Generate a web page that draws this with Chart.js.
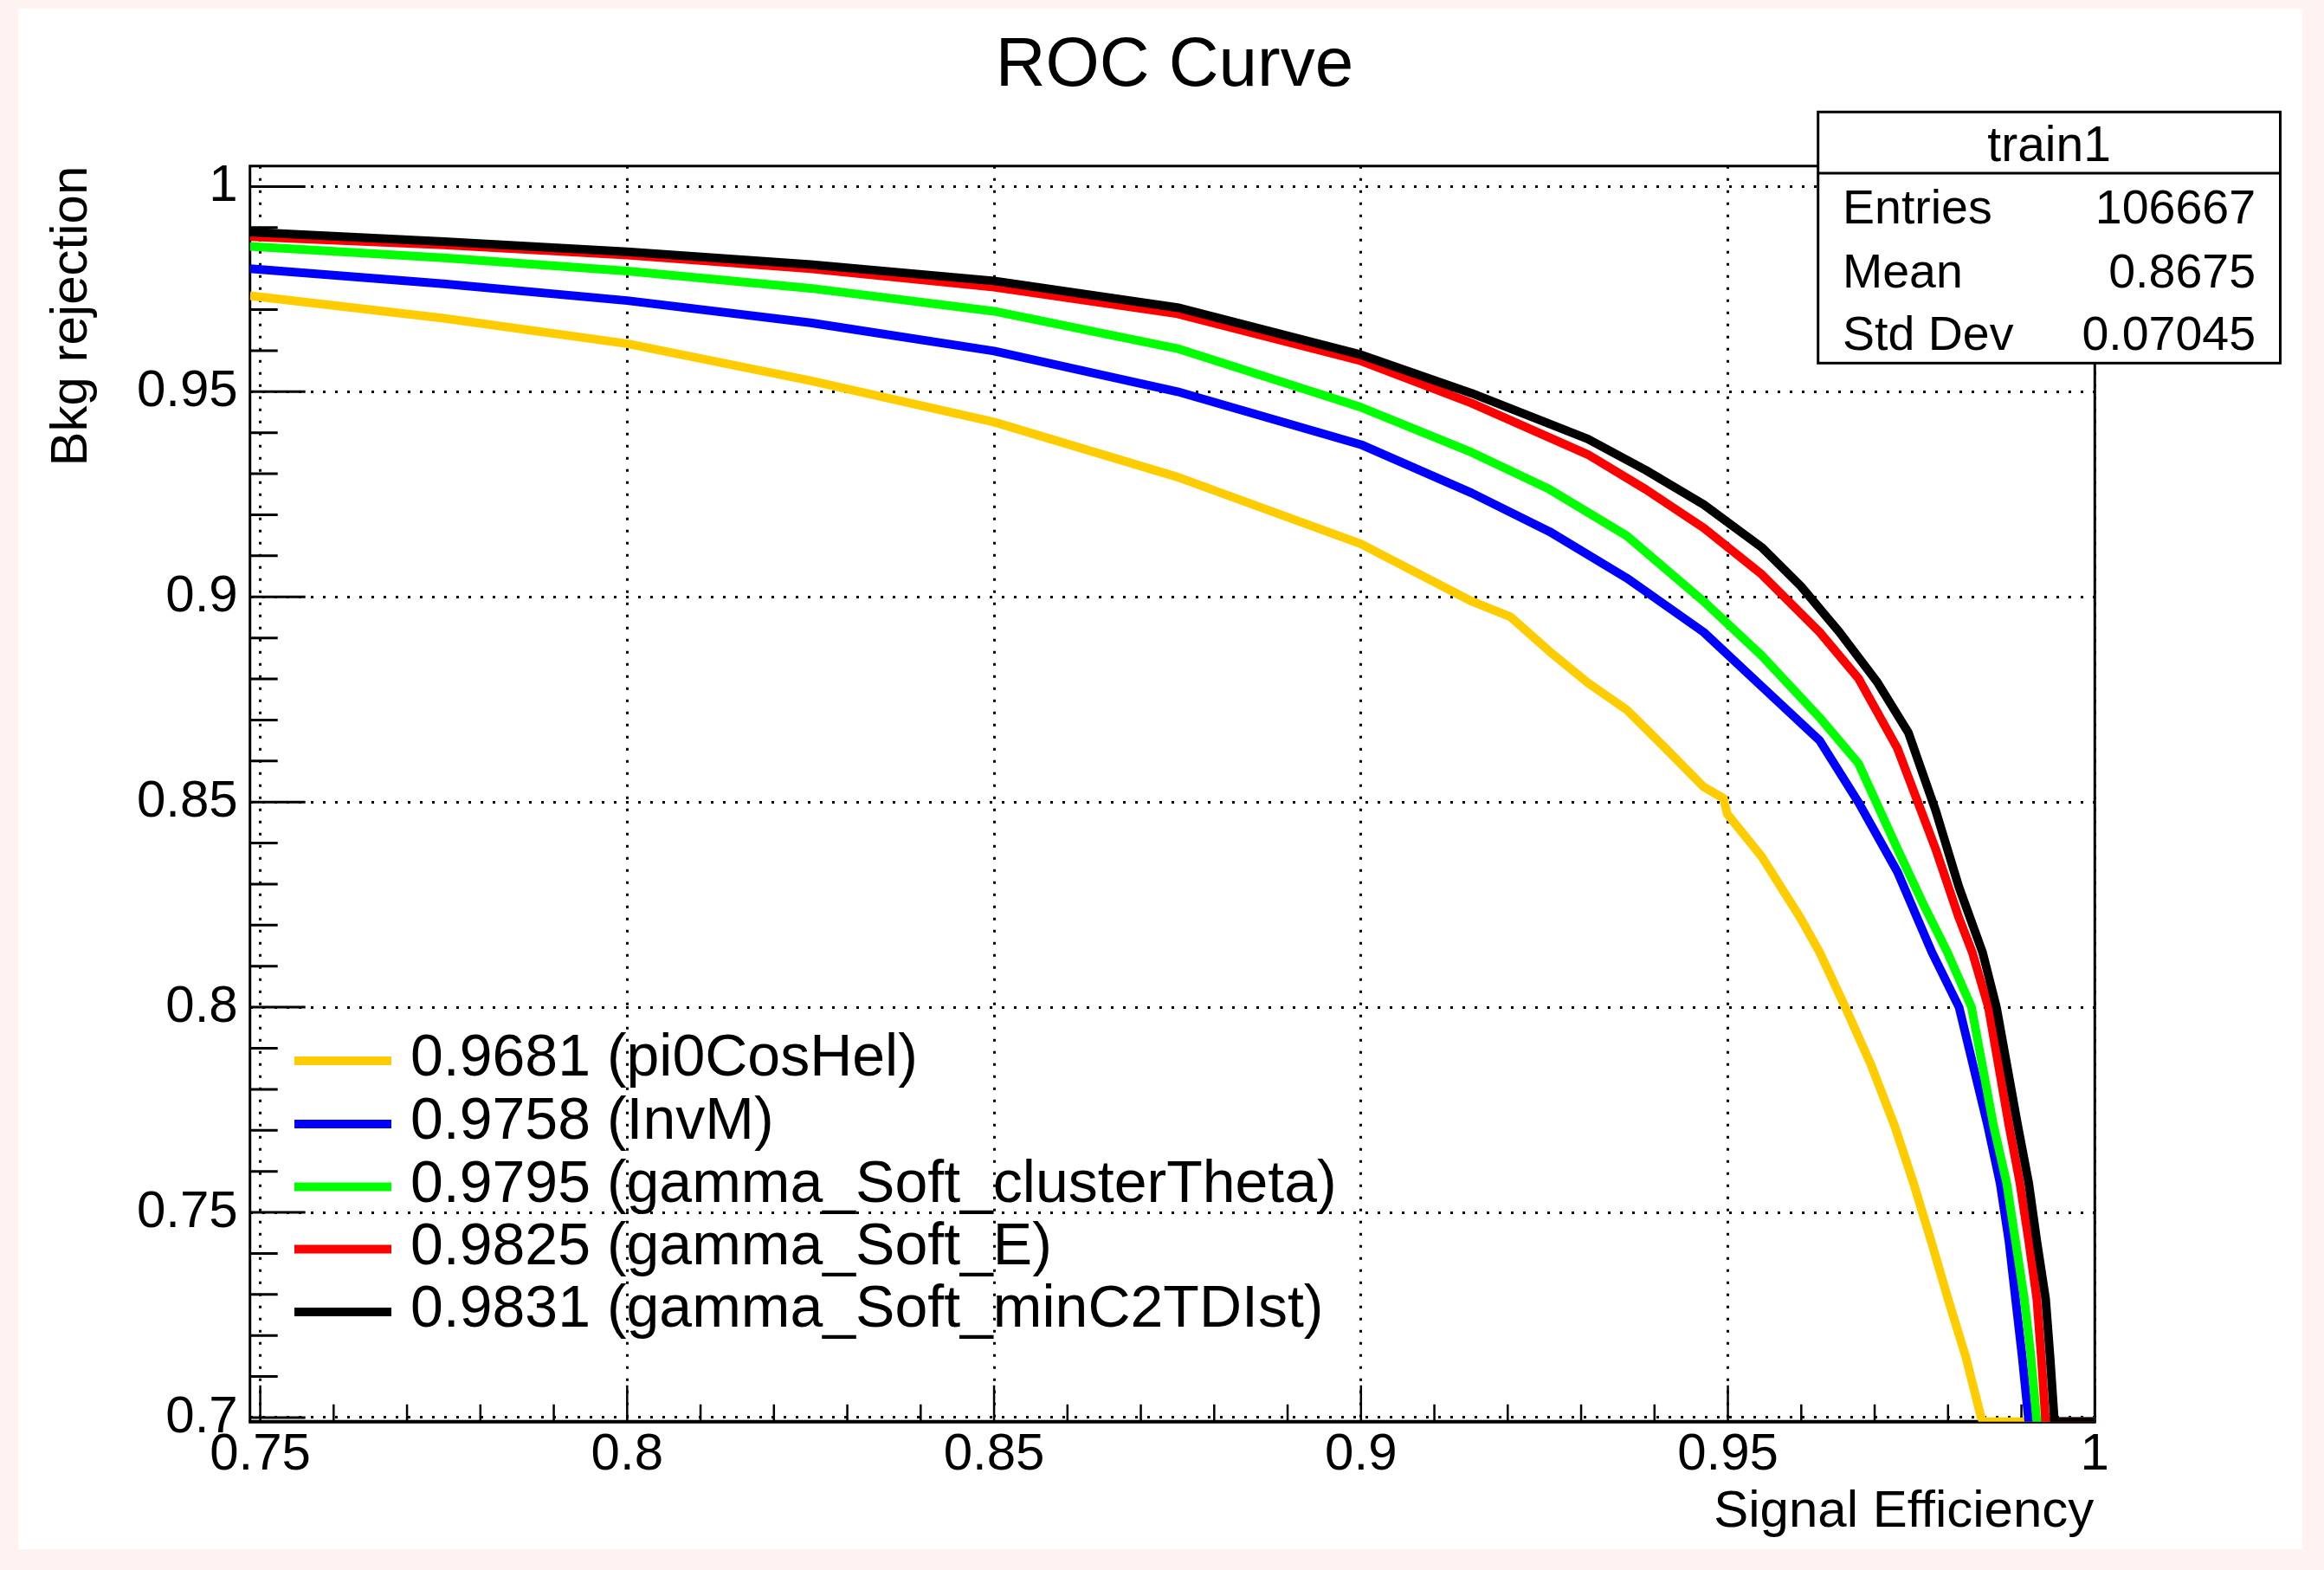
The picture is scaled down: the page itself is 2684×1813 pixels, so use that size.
<!DOCTYPE html>
<html><head><meta charset="utf-8">
<script src="https://cdn.jsdelivr.net/npm/chart.js@4.4.0/dist/chart.umd.min.js"></script>
<style>
html,body{margin:0;padding:0;background:#fff3f1;width:2684px;height:1813px;overflow:hidden}
#paper{position:absolute;left:21px;top:10px;width:2638px;height:1779px;background:#fff}
canvas{position:absolute;left:0;top:0}
</style></head><body>
<div id="paper"></div>
<canvas id="c" width="2684" height="1813"></canvas>
<script>
const FONT = '"Liberation Sans", Arial, Helvetica, sans-serif';
const chartTitle = 'ROC Curve';
const xAxisTitle = 'Signal Efficiency';
const yAxisTitle = 'Bkg rejection';
const xTicks = [0.75, 0.8, 0.85, 0.9, 0.95, 1];
const xTickLabels = ['0.75', '0.8', '0.85', '0.9', '0.95', '1'];
const yTicks = [0.7, 0.75, 0.8, 0.85, 0.9, 0.95, 1];
const yTickLabels = ['0.7', '0.75', '0.8', '0.85', '0.9', '0.95', '1'];

const seriesLabels = ['0.9681 (pi0CosHel)', '0.9758 (InvM)', '0.9795 (gamma_Soft_clusterTheta)', '0.9825 (gamma_Soft_E)', '0.9831 (gamma_Soft_minC2TDIst)'];
const seriesColors = ['#ffcc00', '#0000ff', '#00ff00', '#ff0000', '#000000'];

const effPi0CosHel = [0.7486, 0.775, 0.8, 0.825, 0.85, 0.875, 0.9, 0.9151, 0.9204, 0.9257, 0.9309, 0.9362, 0.9415, 0.9467, 0.9494, 0.9499, 0.9546, 0.9599, 0.9625, 0.966, 0.9695, 0.9727, 0.9753, 0.9777, 0.98, 0.9824, 0.9845, 0.9848, 1.0];
const rejPi0CosHel = [0.9734, 0.9679, 0.9617, 0.9527, 0.9426, 0.9292, 0.9129, 0.8989, 0.8951, 0.8867, 0.8791, 0.8725, 0.8631, 0.8537, 0.8509, 0.8471, 0.8367, 0.8217, 0.8134, 0.800, 0.786, 0.7712, 0.7571, 0.743, 0.7289, 0.7149, 0.7001, 0.699, 0.699];

const effInvM = [0.7486, 0.775, 0.8, 0.825, 0.85, 0.875, 0.9, 0.9151, 0.9257, 0.9362, 0.9467, 0.9546, 0.9625, 0.9678, 0.9731, 0.9778, 0.9815, 0.9854, 0.9871, 0.9883, 0.9892, 0.9901, 0.991, 1.0];
const rejInvM = [0.9800, 0.9763, 0.9722, 0.9668, 0.9599, 0.9500, 0.9371, 0.9253, 0.9159, 0.9046, 0.8914, 0.8782, 0.8650, 0.8499, 0.8330, 0.8134, 0.800, 0.7712, 0.7571, 0.743, 0.7289, 0.7149, 0.699, 0.699];

const effClusterTheta = [0.7486, 0.775, 0.8, 0.825, 0.85, 0.875, 0.9, 0.9151, 0.9257, 0.9362, 0.9467, 0.9546, 0.9625, 0.9678, 0.9731, 0.9768, 0.9799, 0.9832, 0.9862, 0.988, 0.9892, 0.9904, 0.9913, 0.9921, 1.0];
const rejClusterTheta = [0.9854, 0.9826, 0.9794, 0.9752, 0.9696, 0.9605, 0.9462, 0.9352, 0.9262, 0.9149, 0.8989, 0.8857, 0.8706, 0.8594, 0.8386, 0.8245, 0.8134, 0.800, 0.7712, 0.7571, 0.743, 0.7289, 0.7149, 0.699, 0.699];

const effSoftE = [0.7486, 0.775, 0.8, 0.825, 0.85, 0.875, 0.9, 0.9151, 0.9309, 0.9388, 0.9467, 0.9546, 0.9625, 0.9678, 0.9731, 0.9783, 0.9815, 0.9833, 0.9855, 0.9883, 0.9898, 0.991, 0.9921, 0.9927, 0.9933, 1.0];
const rejSoftE = [0.9878, 0.9858, 0.9833, 0.9800, 0.9755, 0.9690, 0.9575, 0.9472, 0.9347, 0.9262, 0.9168, 0.9055, 0.8914, 0.8801, 0.8631, 0.8386, 0.8217, 0.8134, 0.800, 0.7712, 0.7571, 0.743, 0.7289, 0.7149, 0.699, 0.699];

const effMinC2TDist = [0.7486, 0.775, 0.8, 0.825, 0.85, 0.875, 0.9, 0.9151, 0.9309, 0.9388, 0.9467, 0.9546, 0.9599, 0.9652, 0.9704, 0.9746, 0.9783, 0.9815, 0.9847, 0.9866, 0.9895, 0.991, 0.9921, 0.9933, 0.9939, 0.9945, 1.0];
const rejMinC2TDist = [0.9889, 0.9866, 0.9841, 0.9810, 0.9770, 0.9705, 0.9590, 0.9496, 0.9385, 0.9309, 0.9225, 0.9121, 0.9027, 0.8914, 0.8791, 0.8669, 0.8480, 0.8292, 0.8134, 0.800, 0.7712, 0.7571, 0.743, 0.7289, 0.7149, 0.699, 0.699];

const statsTitle = 'train1';
const statsNames = ['Entries', 'Mean', 'Std Dev'];
const statsValues = ['106667', '0.8675', '0.07045'];

const seriesX = [effPi0CosHel, effInvM, effClusterTheta, effSoftE, effMinC2TDist];
const seriesY = [rejPi0CosHel, rejInvM, rejClusterTheta, rejSoftE, rejMinC2TDist];

const datasets = seriesLabels.map((lab, i) => ({
  label: lab,
  data: seriesX[i].map((xv, k) => ({x: xv, y: seriesY[i][k]})),
  borderColor: seriesColors[i],
  backgroundColor: seriesColors[i],
  borderWidth: 10,
  borderJoinStyle: 'round',
  showLine: true,
  pointRadius: 0,
  fill: false,
  tension: 0,
  order: seriesLabels.length - 1 - i
}));

const W = 2684, H = 1813;
const AREA = {left: 288.7, top: 191.7, right: 2419.3, bottom: 1641.7};

const rocPlugin = {
  id: 'roc',
  beforeDatasetsDraw(chart) {
    const {ctx, chartArea: a, scales: {x, y}} = chart;
    ctx.save();
    ctx.strokeStyle = '#000';
    ctx.lineWidth = 3;
    ctx.beginPath();
    ctx.moveTo(a.left, a.bottom); ctx.lineTo(a.left, a.top); ctx.lineTo(a.right, a.top); ctx.lineTo(a.right, a.bottom);
    ctx.stroke();
    ctx.lineWidth = 4;
    ctx.beginPath(); ctx.moveTo(a.left - 1.5, a.bottom); ctx.lineTo(a.right + 1.5, a.bottom); ctx.stroke();
    ctx.lineWidth = 3;
    ctx.beginPath();
    for (const v of yTicks) { const p = y.getPixelForValue(v); ctx.moveTo(a.left, p); ctx.lineTo(a.left + 64, p); }
    for (let k = 70; k <= 100; k++) {
      if (k % 5 === 0) continue;
      const p = y.getPixelForValue(k / 100); ctx.moveTo(a.left, p); ctx.lineTo(a.left + 32, p);
    }
    ctx.stroke();
    ctx.lineWidth = 2.5;
    ctx.beginPath();
    for (const v of xTicks) { const p = x.getPixelForValue(v); ctx.moveTo(p, a.bottom); ctx.lineTo(p, a.bottom - 42); }
    for (let k = 75; k <= 100; k++) {
      if (k % 5 === 0) continue;
      const p = x.getPixelForValue(k / 100); ctx.moveTo(p, a.bottom); ctx.lineTo(p, a.bottom - 20);
    }
    ctx.stroke();
    ctx.restore();
  },
  afterDraw(chart) {
    const {ctx, chartArea: a} = chart;
    ctx.save();
    ctx.fillStyle = '#000';
    ctx.font = '80px ' + FONT;
    ctx.textAlign = 'center';
    ctx.textBaseline = 'alphabetic';
    ctx.fillText(chartTitle, 1356.5, 99);
    ctx.font = '60px ' + FONT;
    ctx.textAlign = 'right';
    ctx.fillText(xAxisTitle, a.right - 1, 1763);
    ctx.save();
    ctx.translate(100, a.top);
    ctx.rotate(-Math.PI / 2);
    ctx.textAlign = 'right';
    ctx.fillText(yAxisTitle, 0, 0);
    ctx.restore();
    const rowY = [1225, 1298, 1370.5, 1442.5, 1515];
    ctx.font = '68px ' + FONT;
    ctx.textAlign = 'left';
    seriesLabels.forEach((lab, i) => {
      ctx.strokeStyle = seriesColors[i];
      ctx.lineWidth = 10;
      ctx.beginPath(); ctx.moveTo(340, rowY[i]); ctx.lineTo(452, rowY[i]); ctx.stroke();
      ctx.fillStyle = '#000';
      ctx.fillText(lab, 474, rowY[i] + 17);
    });
    const bx = 2099.7, by = 129.3, bw = 2633.5 - 2099.7, bh = 419.3 - 129.3;
    ctx.fillStyle = '#fff';
    ctx.fillRect(bx, by, bw, bh);
    ctx.strokeStyle = '#000';
    ctx.lineWidth = 3;
    ctx.strokeRect(bx, by, bw, bh);
    ctx.beginPath(); ctx.moveTo(bx, 200); ctx.lineTo(bx + bw, 200); ctx.stroke();
    ctx.fillStyle = '#000';
    ctx.font = '57px ' + FONT;
    ctx.textAlign = 'center';
    ctx.fillText(statsTitle, bx + bw / 2, 186);
    ctx.font = '55.5px ' + FONT;
    const sy = [258.3, 331.7, 404];
    statsNames.forEach((n, i) => {
      ctx.textAlign = 'left'; ctx.fillText(n, 2128, sy[i]);
      ctx.textAlign = 'right'; ctx.fillText(statsValues[i], 2605, sy[i]);
    });
    ctx.restore();
  }
};

new Chart(document.getElementById('c'), {
  type: 'scatter',
  data: {datasets},
  plugins: [rocPlugin],
  options: {
    responsive: false,
    animation: false,
    devicePixelRatio: 1,
    layout: {autoPadding: false, padding: {left: 0, top: AREA.top, right: W - AREA.right, bottom: 0}},
    plugins: {legend: {display: false}, title: {display: false}, tooltip: {enabled: false}},
    scales: {
      x: {
        type: 'linear', min: 0.7486, max: 1.0,
        afterFit(s) { s.height = H - AREA.bottom; },
        afterBuildTicks(s) { s.ticks = xTicks.map(v => ({value: v})); },
        ticks: {
          autoSkip: false, maxRotation: 0, padding: 3, color: '#000',
          font: {family: FONT, size: 60},
          callback(v) { const i = xTicks.findIndex(t => Math.abs(t - v) < 1e-9); return i >= 0 ? xTickLabels[i] : ''; }
        },
        grid: {color: '#000', lineWidth: 3, drawTicks: false},
        border: {display: false, dash: [3, 11]}
      },
      y: {
        type: 'linear', min: 0.699, max: 1.005,
        afterFit(s) { s.width = AREA.left; },
        afterBuildTicks(s) { s.ticks = yTicks.map(v => ({value: v})); },
        ticks: {
          autoSkip: false, padding: 14, color: '#000',
          font: {family: FONT, size: 60},
          callback(v) { const i = yTicks.findIndex(t => Math.abs(t - v) < 1e-9); return i >= 0 ? yTickLabels[i] : ''; }
        },
        grid: {color: '#000', lineWidth: 3, drawTicks: false},
        border: {display: false, dash: [3, 11]}
      }
    }
  }
});
</script>
</body></html>
